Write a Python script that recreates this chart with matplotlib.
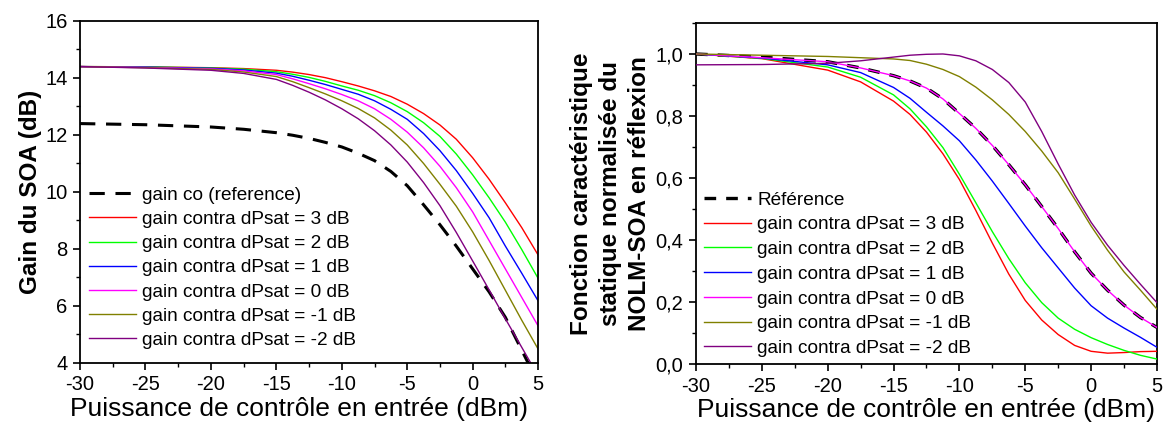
import matplotlib.pyplot as plt
from matplotlib.ticker import MultipleLocator, FuncFormatter

plt.rcParams['font.family'] = ['Liberation Sans', 'DejaVu Sans']
plt.rcParams['axes.unicode_minus'] = False

# puissance de controle (dBm)
p_gain = [-30, -25, -20, -17.5, -15, -13.75, -12.5, -11.25, -10, -8.75, -7.5, -6.25, -5,
          -3.75, -2.5, -1.25, 0, 1.25, 2.5, 3.75, 5]

# gain du SOA (dB)
gain_ref = [12.40, 12.36, 12.28, 12.20, 12.08, 11.99, 11.88, 11.74, 11.58, 11.36, 11.10, 10.72,
            10.22, 9.55, 8.85, 8.10, 7.30, 6.50, 5.60, 4.45, 3.30]
gain_p3 = [14.40, 14.39, 14.36, 14.33, 14.27, 14.205, 14.12, 14.01, 13.87, 13.72, 13.55, 13.35,
           13.08, 12.75, 12.35, 11.85, 11.20, 10.45, 9.62, 8.75, 7.79]
gain_p2 = [14.40, 14.39, 14.35, 14.31, 14.22, 14.13, 14.02, 13.88, 13.72, 13.57, 13.38, 13.13,
           12.82, 12.43, 11.95, 11.33, 10.60, 9.80, 8.94, 7.98, 6.97]
gain_p1 = [14.40, 14.38, 14.34, 14.28, 14.17, 14.06, 13.92, 13.77, 13.60, 13.43, 13.20, 12.90,
           12.55, 12.05, 11.45, 10.75, 9.95, 9.10, 8.10, 7.15, 6.18]
gain_p0 = [14.40, 14.37, 14.32, 14.25, 14.12, 13.97, 13.80, 13.62, 13.42, 13.20, 12.92, 12.55,
           12.10, 11.55, 10.90, 10.15, 9.30, 8.30, 7.30, 6.30, 5.30]
gain_m1 = [14.40, 14.36, 14.30, 14.21, 14.05, 13.87, 13.66, 13.44, 13.20, 12.93, 12.60, 12.17,
           11.65, 11.00, 10.27, 9.50, 8.60, 7.60, 6.55, 5.50, 4.49]
gain_m2 = [14.40, 14.35, 14.27, 14.16, 13.95, 13.74, 13.50, 13.23, 12.92, 12.57, 12.15, 11.65,
           11.05, 10.33, 9.52, 8.58, 7.58, 6.57, 5.55, 4.55, 3.55]

# fonction caracteristique normalisee en reflexion
p_nolm = [-30, -25, -20, -17.5, -15, -13.75, -12.5, -11.25, -10, -8.75, -7.5,
          -6.25, -5, -3.75, -2.5, -1.25, 0, 1.25, 2.5, 3.75, 5]
nolm_ref = [1.0, 0.99, 0.975, 0.955, 0.93, 0.913, 0.89, 0.855, 0.808, 0.76, 0.705,
            0.643, 0.578, 0.508, 0.437, 0.362, 0.293, 0.238, 0.19, 0.15, 0.118]
nolm_p3 = [1.0, 0.985, 0.948, 0.91, 0.848, 0.805, 0.748, 0.678, 0.595, 0.495, 0.39,
           0.29, 0.205, 0.142, 0.095, 0.06, 0.041, 0.035, 0.037, 0.04, 0.041]
nolm_p2 = [1.0, 0.986, 0.958, 0.925, 0.868, 0.823, 0.765, 0.698, 0.612, 0.52, 0.427,
           0.34, 0.262, 0.198, 0.148, 0.112, 0.085, 0.063, 0.044, 0.028, 0.016]
nolm_p1 = [1.0, 0.987, 0.965, 0.94, 0.892, 0.857, 0.812, 0.768, 0.72, 0.658, 0.59,
           0.518, 0.445, 0.375, 0.31, 0.245, 0.188, 0.148, 0.116, 0.086, 0.054]
nolm_p0 = [1.0, 0.988, 0.975, 0.955, 0.93, 0.913, 0.89, 0.855, 0.808, 0.76, 0.705,
           0.643, 0.578, 0.508, 0.437, 0.362, 0.293, 0.238, 0.19, 0.15, 0.118]
nolm_m1 = [1.0, 0.996, 0.992, 0.988, 0.984, 0.979, 0.967, 0.95, 0.927, 0.893, 0.852,
           0.805, 0.75, 0.687, 0.617, 0.532, 0.445, 0.367, 0.297, 0.238, 0.177]
nolm_m2 = [0.965, 0.966, 0.97, 0.978, 0.99, 0.996, 0.999, 1.0, 0.994, 0.978, 0.95,
           0.908, 0.845, 0.75, 0.645, 0.545, 0.457, 0.383, 0.318, 0.257, 0.198]

dpsat = ['3', '2', '1', '0', '-1', '-2']
colors = ['#ff0000', '#00ff00', '#0000ff', '#ff00ff', '#808000', '#800080']

fig = plt.figure(figsize=(11.67, 4.28), dpi=100)
ax1 = fig.add_axes([0.0686, 0.1519, 0.3925, 0.7991])
ax2 = fig.add_axes([0.5964, 0.1495, 0.3950, 0.7968])

leg_kw = dict(loc='lower left', frameon=False, fontsize=13.7, handlelength=2.47,
              handletextpad=0.34, borderpad=0.2, borderaxespad=0.0)

# gauche : gain
ax1.plot(p_gain, gain_ref, color='black', lw=2.2, dashes=(5, 3.5),
         label='gain co (reference)')
for g, d, c in zip([gain_p3, gain_p2, gain_p1, gain_p0, gain_m1, gain_m2], dpsat, colors):
    ax1.plot(p_gain, g, color=c, lw=1.0, label=f'gain contra dPsat = {d} dB')
ax1.set_xlim(-30, 5)
ax1.set_ylim(4, 16)
ax1.xaxis.set_major_locator(MultipleLocator(5))
ax1.xaxis.set_minor_locator(MultipleLocator(2.5))
ax1.yaxis.set_major_locator(MultipleLocator(2))
ax1.yaxis.set_minor_locator(MultipleLocator(1))
ax1.set_ylabel('Gain du SOA (dB)', fontsize=17.5, fontweight='bold', labelpad=2)
ax1.legend(bbox_to_anchor=(0.0103, 0.030), labelspacing=0.36, **leg_kw)

# droite : NOLM
ax2.plot(p_nolm, nolm_ref, color='black', lw=2.4, dashes=(3.5, 3), label='Référence', zorder=2)
for n, d, c in zip([nolm_p3, nolm_p2, nolm_p1, nolm_p0, nolm_m1, nolm_m2], dpsat, colors):
    ax2.plot(p_nolm, n, color=c, lw=1.0, label=f'gain contra dPsat = {d} dB', zorder=3)
ax2.set_xlim(-30, 5)
ax2.set_ylim(0, 1.1)
ax2.xaxis.set_major_locator(MultipleLocator(5))
ax2.xaxis.set_minor_locator(MultipleLocator(2.5))
ax2.yaxis.set_major_locator(MultipleLocator(0.2))
ax2.yaxis.set_minor_locator(MultipleLocator(0.1))
ax2.yaxis.set_major_formatter(FuncFormatter(lambda v, pos: f'{v:.1f}'.replace('.', ',')))
ax2.set_ylabel('Fonction caractéristique\nstatique normalisée du\nNOLM-SOA en réflexion',
               fontsize=17.5, fontweight='bold', linespacing=1.35, labelpad=3)
ax2.legend(bbox_to_anchor=(0.009, 0.0094), labelspacing=0.39, **leg_kw)

for ax in (ax1, ax2):
    ax.set_xlabel('Puissance de contrôle en entrée (dBm)', fontsize=19)
    ax.tick_params(which='major', direction='out', length=5, width=1.2, labelsize=14.5,
                   top=False, right=False, pad=4)
    ax.tick_params(which='minor', direction='out', length=3, width=1.0, top=False, right=False)
    for s in ax.spines.values():
        s.set_linewidth(1.3)

ax1.xaxis.set_label_coords(0.477, -0.10)
ax2.xaxis.set_label_coords(0.5, -0.10)

fig.savefig('out.png', dpi=100)
